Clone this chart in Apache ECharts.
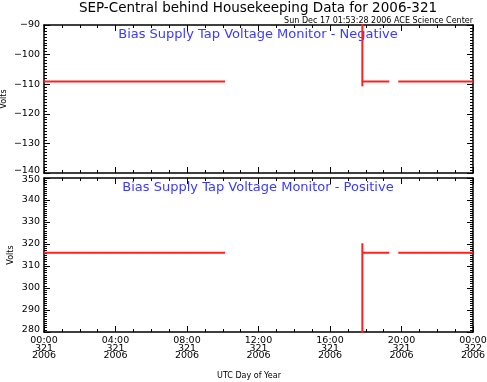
<!DOCTYPE html>
<html>
<head>
<meta charset="utf-8">
<script src="https://cdn.jsdelivr.net/npm/echarts@6/dist/echarts.min.js"></script>
<style>
html,body{margin:0;padding:0;background:#fff;}
#chart{width:487px;height:382px;}
</style>
</head>
<body>
<div id="chart"></div>
<script>
// ---- data ----
const hours      = [0, 10.13, 14, 17.81, 17.81, 17.81, 19.32, 19.6, 19.82, 24];
const negVolts   = [-109.05, -109.05, null, -80, -110.7, -109.05, -109.05, null, -109.05, -109.05];
const posVolts   = [316, 316, null, 270, 320.3, 316, 316, null, 316, 316];
const xTickHours = [0, 4, 8, 12, 16, 20, 24];
const xTickLabels = ['00:00\n321\n2006','04:00\n321\n2006','08:00\n321\n2006','12:00\n321\n2006','16:00\n321\n2006','20:00\n321\n2006','00:00\n322\n2006'];
const titleText = 'SEP-Central behind Housekeeping Data for 2006-321';
const stampText = 'Sun Dec 17 01:53:28 2006 ACE Science Center';
const panelLabels = ['Bias Supply Tap Voltage Monitor - Negative', 'Bias Supply Tap Voltage Monitor - Positive'];
const xAxisTitle = 'UTC Day of Year';
const yAxisTitle = 'Volts';
const yRanges = [[-140, -90], [280, 350]];

const FONT = '"DejaVu Sans", Verdana, sans-serif';
function pairs(ys){ return hours.map((h,i)=> ys[i]===null ? [h,'-'] : [h, ys[i]]); }

const grids = [
  {left:44, top:25, width:429, height:148, containLabel:false, outerBoundsMode:'none'},
  {left:44, top:178, width:429, height:154, containLabel:false, outerBoundsMode:'none'}
];

function xAx(g, pos, showLbl){
  return {
    type:'value', gridIndex:g, position:pos, min:0, max:24, interval:4,
    axisLine:{show:true, onZero:false, lineStyle:{color:'#000', width:1.5}},
    axisTick:{show:true, inside:true, length:6, lineStyle:{color:'#000', width:1}},
    minorTick:{show:true, splitNumber:4, length:3, lineStyle:{color:'#000', width:1}},
    splitLine:{show:false},
    axisLabel:{show:showLbl, color:'#000', fontFamily:FONT, fontSize:9.5, lineHeight:7.5, margin:5,
      formatter:function(v){ const i = xTickHours.indexOf(v); return i>=0 ? xTickLabels[i] : ''; }}
  };
}
function yAx(g, pos, showLbl, gap){
  const lo = yRanges[g][0], hi = yRanges[g][1];
  return {
    type:'value', gridIndex:g, position:pos, min:lo, max:hi, interval:10,
    axisLine:{show:true, onZero:false, lineStyle:{color:'#000', width:1.5}},
    axisTick:{show:true, inside:true, length:6, lineStyle:{color:'#000', width:1}},
    minorTick:{show:true, splitNumber:10, length:3, lineStyle:{color:'#000', width:1}},
    splitLine:{show:false},
    axisLabel:{show:showLbl, color:'#000', fontFamily:FONT, fontSize:9.5, margin:4,
      formatter:function(v){
        const s = String(v).replace('-', '\u2212');
        if (v === lo) return '{up|' + s + '}';
        if (v === hi && g === 1) return '{down|' + s + '}';
        return s;
      },
      rich:{
        up:{fontFamily:FONT, fontSize:9.5, color:'#000', padding:[0,0,5,0]},
        down:{fontFamily:FONT, fontSize:9.5, color:'#000', padding:[4,0,0,0]}
      }},
    name: showLbl ? yAxisTitle : '',
    nameLocation:'middle', nameGap:gap, nameMoveOverlap:false,
    nameTextStyle:{color:'#000', fontFamily:FONT, fontSize:8}
  };
}

const chart = echarts.init(document.getElementById('chart'), null, {renderer:'canvas'});
chart.setOption({
  animation:false,
  backgroundColor:'#fff',
  grid:grids,
  xAxis:[xAx(0,'bottom',false), xAx(0,'top',false), xAx(1,'bottom',true), xAx(1,'top',false)],
  yAxis:[yAx(0,'left',true,36), yAx(0,'right',false,0), yAx(1,'left',true,29), yAx(1,'right',false,0)],
  series:[
    {type:'line', xAxisIndex:0, yAxisIndex:0, data:pairs(negVolts), showSymbol:false, symbol:'none',
      connectNulls:false, lineStyle:{color:'#ff2020', width:2}, clip:true},
    {type:'line', xAxisIndex:2, yAxisIndex:2, data:pairs(posVolts), showSymbol:false, symbol:'none',
      connectNulls:false, lineStyle:{color:'#ff2020', width:2}, clip:true}
  ],
  graphic:[
    {type:'text', x:258, y:8, style:{text:titleText, font:'13.5px '+FONT, fill:'#000', textAlign:'center', textVerticalAlign:'middle'}},
    {type:'text', x:473, y:20.5, style:{text:stampText, font:'8px '+FONT, fill:'#000', textAlign:'right', textVerticalAlign:'middle'}},
    {type:'text', x:258, y:35, style:{text:panelLabels[0], font:'13px '+FONT, fill:'#3a3aff', textAlign:'center', textVerticalAlign:'middle'}},
    {type:'text', x:258, y:188, style:{text:panelLabels[1], font:'13px '+FONT, fill:'#3a3aff', textAlign:'center', textVerticalAlign:'middle'}},
    {type:'text', x:249, y:375.5, style:{text:xAxisTitle, font:'8px '+FONT, fill:'#000', textAlign:'center', textVerticalAlign:'middle'}}
  ]
});
</script>
</body>
</html>
